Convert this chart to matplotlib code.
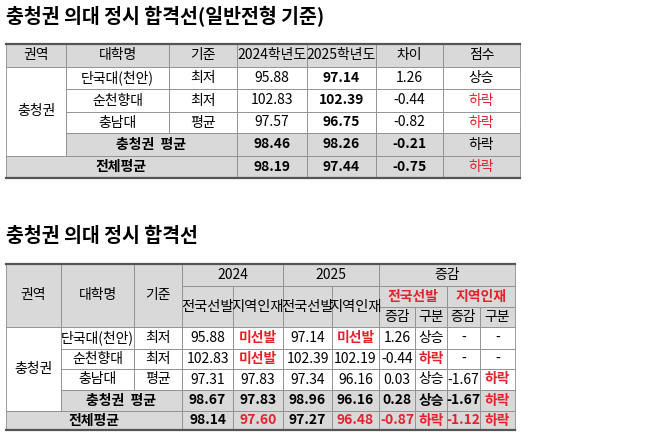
import matplotlib.pyplot as plt
from matplotlib.patches import Rectangle

plt.rcParams['font.family'] = ['Noto Sans CJK KR', 'DejaVu Sans']

RED = '#e8202a'
GREY = '#d9d9d9'

# ---- data: table 1 ----
t1_title = '충청권 의대 정시 합격선(일반전형 기준)'
t1_header = ['권역', '대학명', '기준', '2024학년도', '2025학년도', '차이', '점수']
univs = ['단국대(천안)', '순천향대', '충남대']
basis = ['최저', '최저', '평균']
t1_2024 = ['95.88', '102.83', '97.57']
t1_2025 = ['97.14', '102.39', '96.75']
t1_diff = ['1.26', '-0.44', '-0.82']
t1_score = ['상승', '하락', '하락']
t1_avg = ['98.46', '98.26', '-0.21', '하락']
t1_total = ['98.19', '97.44', '-0.75', '하락']

# ---- data: table 2 ----
t2_title = '충청권 의대 정시 합격선'
t2_24_nat = ['95.88', '102.83', '97.31']
t2_24_reg = ['미선발', '미선발', '97.83']
t2_25_nat = ['97.14', '102.39', '97.34']
t2_25_reg = ['미선발', '102.19', '96.16']
t2_nat_chg = ['1.26', '-0.44', '0.03']
t2_nat_lbl = ['상승', '하락', '상승']
t2_reg_chg = ['-', '-', '-1.67']
t2_reg_lbl = ['-', '-', '하락']
t2_avg = ['98.67', '97.83', '98.96', '96.16', '0.28', '상승', '-1.67', '하락']
t2_total = ['98.14', '97.60', '97.27', '96.48', '-0.87', '하락', '-1.12', '하락']

fig = plt.figure(figsize=(6.58, 4.42), dpi=100)
ax = fig.add_axes([0, 0, 1, 1])
ax.set_xlim(0, 658)
ax.set_ylim(442, 0)
ax.axis('off')


def cell(x0, x1, y0, y1, text='', fill='white', color='black', bold=False, size=10):
    ax.add_patch(Rectangle((x0, y0), x1 - x0, y1 - y0, facecolor=fill,
                           edgecolor='#8c8c8c', linewidth=0.6))
    if text:
        if text in ('하락', '미선발'):
            color = RED
        ax.text((x0 + x1) / 2, (y0 + y1) / 2, text, ha='center', va='center',
                fontsize=size, color=color, fontweight='bold' if bold else 'normal')


def rule(x0, x1, y, lw=1.6):
    ax.plot([x0, x1], [y, y], color='#555555', linewidth=lw)


# ---- table 1 ----
ax.text(6, 17, t1_title, fontsize=14, fontweight='bold', va='center')
cx = [6, 66, 169, 237, 307, 376, 443, 520]
ry = [44, 67, 89, 112, 133, 156, 178]
for i, h in enumerate(t1_header):
    cell(cx[i], cx[i + 1], ry[0], ry[1], h, GREY)
cell(cx[0], cx[1], ry[1], ry[5], '충청권')
for r in range(3):
    y0, y1 = ry[r + 1], ry[r + 2]
    vals = [univs[r], basis[r], t1_2024[r], t1_2025[r], t1_diff[r], t1_score[r]]
    for c, v in enumerate(vals):
        cell(cx[c + 1], cx[c + 2], y0, y1, v, bold=(c == 3))
cell(cx[1], cx[3], ry[4], ry[5], '충청권  평균', GREY, bold=True)
for c, v in enumerate(t1_avg):
    cell(cx[c + 3], cx[c + 4], ry[4], ry[5], v, GREY, bold=(c < 3))
ax.texts[-1].set_color('black')  # 충청권 평균 row shows 하락 in black
cell(cx[0], cx[3], ry[5], ry[6], '전체평균', GREY, bold=True)
for c, v in enumerate(t1_total):
    cell(cx[c + 3], cx[c + 4], ry[5], ry[6], v, GREY, bold=(c < 3))
rule(cx[0], cx[-1], ry[0])
rule(cx[0], cx[-1], ry[-1])

# ---- table 2 ----
ax.text(6, 236, t2_title, fontsize=14, fontweight='bold', va='center')
dx = [6, 61, 134, 182, 233, 283, 332, 379, 415, 447, 480, 515]
hy = [264, 286, 307, 327]
sy = [327, 349, 369, 390, 411, 430]
cell(dx[0], dx[1], hy[0], hy[3], '권역', GREY)
cell(dx[1], dx[2], hy[0], hy[3], '대학명', GREY)
cell(dx[2], dx[3], hy[0], hy[3], '기준', GREY)
cell(dx[3], dx[5], hy[0], hy[1], '2024', GREY)
cell(dx[5], dx[7], hy[0], hy[1], '2025', GREY)
cell(dx[7], dx[11], hy[0], hy[1], '증감', GREY)
for c, h in enumerate(['전국선발', '지역인재', '전국선발', '지역인재']):
    cell(dx[3 + c], dx[4 + c], hy[1], hy[3], h, GREY, size=10.3)
cell(dx[7], dx[9], hy[1], hy[2], '전국선발', GREY, RED, bold=True)
cell(dx[9], dx[11], hy[1], hy[2], '지역인재', GREY, RED, bold=True)
for c, h in enumerate(['증감', '구분', '증감', '구분']):
    cell(dx[7 + c], dx[8 + c], hy[2], hy[3], h, GREY)

cell(dx[0], dx[1], sy[0], sy[4], '충청권')
for r in range(3):
    y0, y1 = sy[r], sy[r + 1]
    vals = [univs[r], basis[r], t2_24_nat[r], t2_24_reg[r], t2_25_nat[r],
            t2_25_reg[r], t2_nat_chg[r], t2_nat_lbl[r], t2_reg_chg[r], t2_reg_lbl[r]]
    for c, v in enumerate(vals):
        cell(dx[c + 1], dx[c + 2], y0, y1, v, bold=(v in ('하락', '미선발')))
cell(dx[1], dx[3], sy[3], sy[4], '충청권  평균', GREY, bold=True)
for c, v in enumerate(t2_avg):
    cell(dx[c + 3], dx[c + 4], sy[3], sy[4], v, GREY, bold=True)
cell(dx[0], dx[3], sy[4], sy[5], '전체평균', GREY, bold=True)
total_red = {1, 3, 4, 5, 6, 7}
for c, v in enumerate(t2_total):
    cell(dx[c + 3], dx[c + 4], sy[4], sy[5], v, GREY,
         RED if c in total_red else 'black', bold=True)
rule(dx[0], dx[-1], hy[0])
rule(dx[0], dx[-1], sy[-1])

fig.savefig('out.png', dpi=100)
